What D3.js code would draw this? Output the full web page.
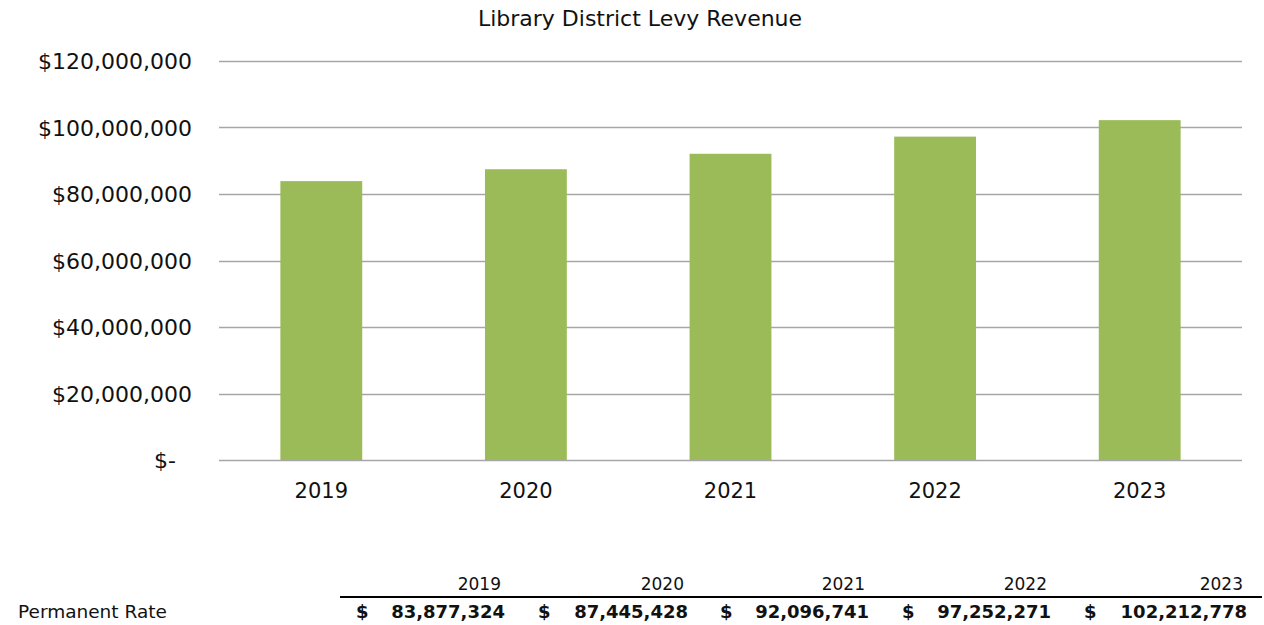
<!DOCTYPE html>
<html>
<head>
<meta charset="utf-8">
<script src="https://cdn.jsdelivr.net/npm/d3@7"></script>
<style>
  body { margin: 0; background: #fff; }
  svg text { font-family: "DejaVu Sans", Verdana, sans-serif; fill: #111; }
</style>
</head>
<body>
<div id="chart"></div>
<script>
// data
const years = ["2019", "2020", "2021", "2022", "2023"];
const revenue = [83877324, 87445428, 92096741, 97252271, 102212778];
const yTicks = [0, 20000000, 40000000, 60000000, 80000000, 100000000, 120000000];
const rowLabel = "Permanent Rate";
const chartTitle = "Library District Levy Revenue";

const data = years.map((y, i) => ({year: y, value: revenue[i]}));

const W = 1264, H = 625;
const margin = {top: 61, right: 22, bottom: 165, left: 219};
const width = W - margin.left - margin.right;
const height = H - margin.top - margin.bottom;

const svg = d3.select("#chart").append("svg")
  .attr("width", W)
  .attr("height", H);

const chart = svg.append("g")
  .attr("transform", `translate(${margin.left},${margin.top})`);

// scales
const x = d3.scaleBand().domain(years).range([0, width]).paddingInner(0.6).paddingOuter(0.3);
const y = d3.scaleLinear().domain([0, 120000000]).range([height, 0]);

const fmtComma = d3.format(",");
const yFmt = d => d === 0 ? "$-" : "$" + fmtComma(d);

// gridlines
chart.append("g")
  .attr("class", "grid")
  .selectAll("line")
  .data(yTicks)
  .enter().append("line")
    .attr("x1", 0)
    .attr("x2", width)
    .attr("y1", d => Math.round(y(d)) + 0.5)
    .attr("y2", d => Math.round(y(d)) + 0.5)
    .attr("stroke", "#a6a6a6")
    .attr("stroke-width", 1.6);

// y axis
const yAxis = d3.axisLeft(y).tickValues(yTicks).tickFormat(yFmt).tickSize(0).tickPadding(27);
const yG = chart.append("g").call(yAxis);
yG.select(".domain").remove();
yG.selectAll("text")
  .style("font-size", "22px")
  .attr("dy", "0.35em")
  .attr("fill", "#111");
// accounting format pads the zero label away from the right edge
yG.selectAll("text").filter(d => d === 0).attr("dx", -16);

// bars
chart.selectAll(".bar")
  .data(data)
  .enter().append("rect")
    .attr("class", "bar")
    .attr("x", d => x(d.year))
    .attr("width", x.bandwidth())
    .attr("y", d => y(d.value))
    .attr("height", d => height - y(d.value))
    .attr("fill", "#9bbb59");

// x axis
const xAxis = d3.axisBottom(x).tickSize(0).tickPadding(23);
const xG = chart.append("g")
  .attr("transform", `translate(0,${height})`)
  .call(xAxis);
xG.select(".domain").remove();
xG.selectAll("text")
  .style("font-size", "21px")
  .attr("fill", "#111");

// title
svg.append("text")
  .attr("x", 640)
  .attr("y", 26)
  .attr("text-anchor", "middle")
  .style("font-size", "22px")
  .text(chartTitle);

// data table below the chart
const colRight = [505, 688, 869, 1051, 1247];
const colLeft = [356, 538, 720, 902, 1084];

const table = svg.append("g").attr("class", "table");

table.selectAll(".hdr")
  .data(years)
  .enter().append("text")
    .attr("class", "hdr")
    .attr("x", (d, i) => colRight[i] - 4)
    .attr("y", 590)
    .attr("text-anchor", "end")
    .style("font-size", "17px")
    .text(d => d);

table.append("line")
  .attr("x1", 340)
  .attr("x2", 1262)
  .attr("y1", 597)
  .attr("y2", 597)
  .attr("stroke", "#000")
  .attr("stroke-width", 2);

table.append("text")
  .attr("x", 18)
  .attr("y", 618)
  .style("font-size", "18.5px")
  .text(rowLabel);

table.selectAll(".dollar")
  .data(revenue)
  .enter().append("text")
    .attr("class", "dollar")
    .attr("x", (d, i) => colLeft[i])
    .attr("y", 618)
    .style("font-size", "18px")
    .style("font-weight", "bold")
    .text("$");

table.selectAll(".val")
  .data(revenue)
  .enter().append("text")
    .attr("class", "val")
    .attr("x", (d, i) => colRight[i])
    .attr("y", 618)
    .attr("text-anchor", "end")
    .style("font-size", "18px")
    .style("font-weight", "bold")
    .text(d => fmtComma(d));
</script>
</body>
</html>
